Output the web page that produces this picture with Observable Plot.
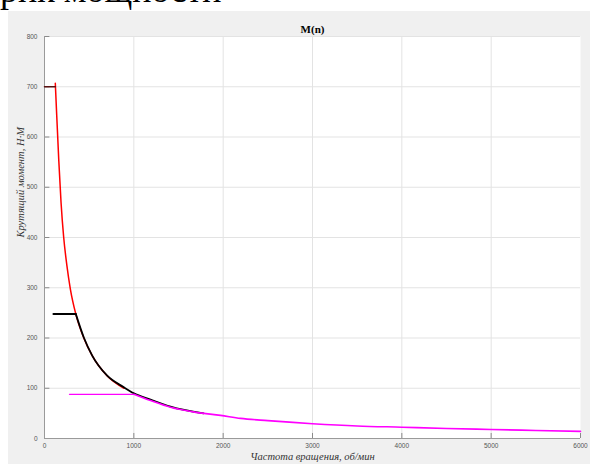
<!DOCTYPE html>
<html><head><meta charset="utf-8">
<script src="https://cdn.jsdelivr.net/npm/d3@7"></script>
<script src="https://cdn.jsdelivr.net/npm/@observablehq/plot@0.6"></script>
<style>
body{margin:0;background:#fff;}
#wrap{position:relative;width:590px;height:464px;overflow:hidden;background:#fff;}
#head{position:absolute;left:0;top:-28px;font:36px "Liberation Serif",serif;color:#000;white-space:nowrap;line-height:1;}
#panel{position:absolute;left:8px;top:11px;width:582px;height:453px;background:#f0f0f0;}
</style></head>
<body><div id="wrap"><div id="head">рик мощности</div><div id="panel"></div></div>
<script>
const xTicks = [0, 1000, 2000, 3000, 4000, 5000, 6000];
const yTicks = [0, 100, 200, 300, 400, 500, 600, 700, 800];

const redN = [121, 135, 160, 185, 215, 250, 290, 350, 440, 534, 700, 890];
const redM = [707, 650, 553, 470, 400, 345, 297, 248, 200, 165, 125, 100];

const blackN = [350, 440, 534, 702, 888, 1000, 1187, 1411, 1780];
const blackM = [248, 201, 165, 125, 102, 90, 77.5, 63.5, 50];

const magentaN = [1000, 1187, 1411, 1700, 1971, 2195, 2500, 3000, 3500, 4000, 4500, 5000, 5500, 6000];
const magentaM = [88, 75.5, 62, 52, 46, 40, 35.5, 29.5, 25, 22.5, 20, 18, 16, 14.2];

// horizontal "shelf" segments: start n, end n, torque
const shelfStart = [0, 100, 280];
const shelfEnd = [121, 350, 1000];
const shelfM = [700, 248, 88];
const shelfColors = ["#5a1010", "#000000", "#ff00ff"];
const shelfWidths = [1.5, 2, 1.3];

const toPts = (ns, ms) => ns.map((n, i) => ({n, m: ms[i]}));
const red = toPts(redN, redM);
const black = toPts(blackN, blackM);
const magenta = toPts(magentaN, magentaM);
const shelves = shelfStart.map((s, i) => ({i, pts: [{n: s, m: shelfM[i]}, {n: shelfEnd[i], m: shelfM[i]}]}));

const tickFont = "Liberation Sans, Arial, sans-serif";
const serif = "Liberation Serif, Times New Roman, serif";

const chart = Plot.plot({
  width: 582, height: 453,
  marginLeft: 36, marginRight: 10, marginTop: 25, marginBottom: 26,
  style: {background: "transparent", overflow: "visible"},
  x: {domain: [0, 6000]},
  y: {domain: [0, 800]},
  marks: [
    Plot.frame({fill: "white", stroke: "none"}),
    Plot.gridX(xTicks.slice(1, -1), {stroke: "#e3e3e3", strokeOpacity: 1}),
    Plot.gridY(yTicks.slice(1), {stroke: "#e3e3e3", strokeOpacity: 1}),
    Plot.ruleX(xTicks.slice(1), {y1: 0, y2: 10, stroke: "#8a8a8a"}),
    Plot.ruleY(yTicks.slice(1), {x1: 0, x2: 60, stroke: "#8a8a8a"}),
    Plot.ruleX([0], {stroke: "#9a9a9a"}),
    Plot.ruleY([0], {stroke: "#9a9a9a"}),
    Plot.axisX({ticks: xTicks, tickFormat: d => String(d), tickSize: 0, tickPadding: 5, fontSize: 6.5, fontFamily: tickFont, color: "#555", label: null}),
    Plot.axisY({ticks: yTicks, tickFormat: d => String(d), tickSize: 0, tickPadding: 7, fontSize: 6.5, fontFamily: tickFont, color: "#555", label: null}),
    Plot.line(red, {x: "n", y: "m", stroke: "#ff0000", strokeWidth: 1.5, curve: "monotone-x"}),
    Plot.line(black, {x: "n", y: "m", stroke: "#000000", strokeWidth: 1.8, curve: "monotone-x"}),
    Plot.line(magenta, {x: "n", y: "m", stroke: "#ff00ff", strokeWidth: 1.6, curve: "monotone-x"}),
    ...shelves.map(s => Plot.line(s.pts, {x: "n", y: "m", stroke: shelfColors[s.i], strokeWidth: shelfWidths[s.i]})),
    Plot.text(["M(n)"], {frameAnchor: "top", dy: -11, fontWeight: "bold", fontFamily: serif, fontSize: 11, fill: "#000"}),
    Plot.text(["Частота вращения, об/мин"], {frameAnchor: "bottom", dy: 21, fontStyle: "italic", fontFamily: serif, fontSize: 10.5, fill: "#333"}),
    Plot.text(["Крутящий момент, Н·М"], {frameAnchor: "left", dx: -24, rotate: -90, fontStyle: "italic", fontFamily: serif, fontSize: 10.5, fill: "#333"})
  ]
});
document.getElementById("panel").appendChild(chart);
</script>
</body></html>
